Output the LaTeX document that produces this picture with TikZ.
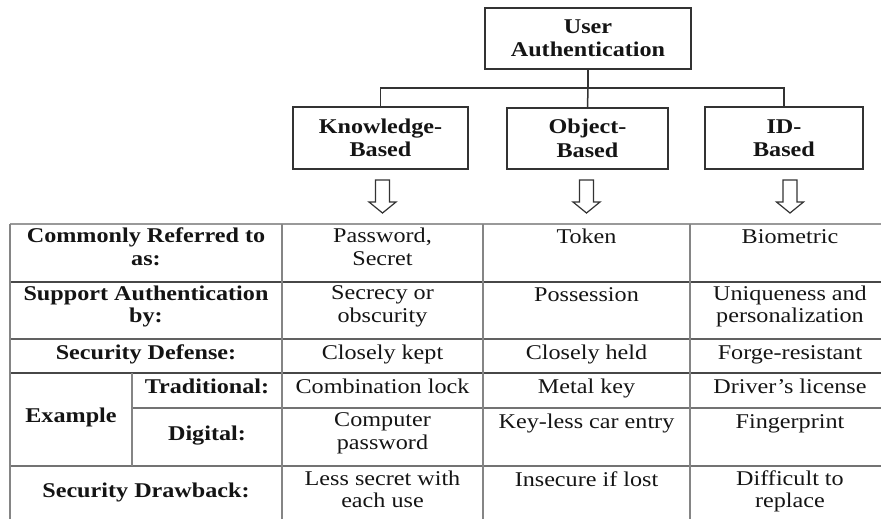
\documentclass[tikz,border=0pt]{standalone}
\usepackage{fontspec}
\setmainfont{Liberation Serif}[FakeStretch=1.15]
\usetikzlibrary{calc}
\begin{document}
\begin{tikzpicture}[x=1pt, y=-1pt,
  ink/.style={color=black!92},
  txt/.style={ink, anchor=north, inner sep=0pt, align=center,
    font=\fontsize{21}{22.5}\selectfont,
    execute at begin node={\rule{0pt}{15.5pt}}},
  hd/.style={txt, font=\fontsize{21}{22.5}\selectfont\bfseries},
  catbox/.style={draw=black!80, line width=1.5pt, align=center, inner sep=0pt,
    font=\fontsize{21}{23.5}\selectfont\bfseries, text=black!92},
  tie/.style={draw=black!80, line width=1.5pt},
  rowline/.style={draw=black!72, line width=1.4pt},
  colline/.style={draw=black!48, line width=1.4pt},
  hollow/.style={draw=black!80, line width=1.2pt, fill=white, line join=miter}]
\useasboundingbox (0,0) rectangle (881,519);

% column centres of the table
\coordinate (cK) at (382.5,0);
\coordinate (cO) at (586.5,0);
\coordinate (cI) at (790,0);

% classification tree
\node[catbox, minimum width=206pt, minimum height=61pt] (ua) at (588,38.5) {User\\Authentication};
\node[catbox, minimum width=175pt, minimum height=62pt] (kb) at (380.5,138) {Knowledge-\\Based};
\node[catbox, minimum width=161pt, minimum height=61pt] (ob) at (587.5,138.5) {Object-\\Based};
\node[catbox, minimum width=158pt, minimum height=62pt] (ib) at (784,138) {ID-\\Based};

\draw[tie] (ua.south) -- ++(0,18.5) coordinate (bus) -| (kb.north);
\draw[tie] (bus) -| (ib.north);
\draw[tie] (bus) -- (ob.north);

% hollow arrows pointing down into the table
\newcommand\hollowdown[1]{%
  \draw[hollow] ($(#1)+(-7,180)$) -- ($(#1)+(7,180)$) -- ($(#1)+(7,202)$)
    -- ($(#1)+(13.5,202)$) -- ($(#1)+(0,213)$) -- ($(#1)+(-13.5,202)$)
    -- ($(#1)+(-7,202)$) -- cycle;}
\hollowdown{cK}
\hollowdown{cO}
\hollowdown{cI}

% table rules
\draw[colline, draw=black!40] (10,224) -- (881,224);
\draw[rowline] (10,282) -- (881,282);
\draw[rowline, draw=black!62] (10,339) -- (881,339);
\draw[rowline] (10,373) -- (881,373);
\draw[rowline, draw=black!55] (132,408) -- (881,408);
\draw[rowline, draw=black!55] (10,466) -- (881,466);
\draw[colline] (10,224) -- (10,519);
\draw[colline] (282,224) -- (282,519);
\draw[colline] (483,224) -- (483,519);
\draw[colline] (690,224) -- (690,519);
\draw[colline] (132,373) -- (132,466);

% row: commonly referred to as
\node[hd]  (r1h) at (146,228) {Commonly Referred to\\as:};
\node[txt] (r1k) at (382.5,228) {Password,\\Secret};
\node[txt] (r1o) at (586.5,228) {Token};
\node[txt] (r1i) at (790,228) {Biometric};

% row: support authentication by
\node[hd]  (r2h) at (146,285.5) {Support Authentication\\by:};
\node[txt] (r2k) at (382.5,285.5) {Secrecy or\\obscurity};
\node[txt] (r2o) at (586.5,285.5) {Possession};
\node[txt] (r2i) at (790,285.5) {Uniqueness and\\personalization};

% row: security defense
\node[hd]  (r3h) at (146,343.5) {Security Defense:};
\node[txt] (r3k) at (382.5,343.5) {Closely kept};
\node[txt] (r3o) at (586.5,343.5) {Closely held};
\node[txt] (r3i) at (790,343.5) {Forge-resistant};

% rows: examples
\node[hd]  (exh) at (71,406.5) {Example};
\node[hd]  (r4h) at (207,377.5) {Traditional:};
\node[txt] (r4k) at (382.5,377.5) {Combination lock};
\node[txt] (r4o) at (586.5,377.5) {Metal key};
\node[txt] (r4i) at (790,377.5) {Driver’s license};

\node[hd]  (r5h) at (207,424.5) {Digital:};
\node[txt] (r5k) at (382.5,412.5) {Computer\\password};
\node[txt] (r5o) at (586.5,412.5) {Key-less car entry};
\node[txt] (r5i) at (790,412.5) {Fingerprint};

% row: security drawback
\node[hd]  (r6h) at (146,481.5) {Security Drawback:};
\node[txt] (r6k) at (382.5,470.5) {Less secret with\\each use};
\node[txt] (r6o) at (586.5,470.5) {Insecure if lost};
\node[txt] (r6i) at (790,470.5) {Difficult to\\replace};
\end{tikzpicture}
\end{document}
